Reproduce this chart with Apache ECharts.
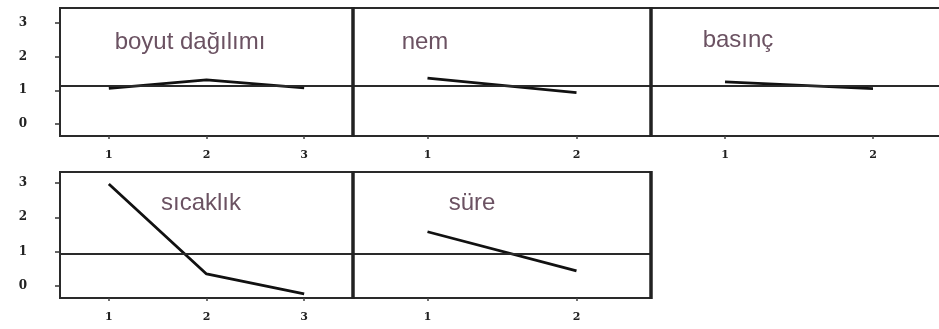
<!DOCTYPE html>
<html>
<head>
<meta charset="utf-8">
<script src="https://cdn.jsdelivr.net/npm/echarts@6/dist/echarts.min.js"></script>
<style>html,body{margin:0;padding:0;background:#fff}#c{width:939px;height:329px}</style>
</head>
<body>
<div id="c"></div>
<script>
// ---- data ----
const panelTitles = ['boyut dağılımı', 'nem', 'basınç', 'sıcaklık', 'süre'];
const levels3 = ['1', '2', '3'];
const levels2 = ['1', '2'];
const boyut = [1.06, 1.31, 1.07];
const nem = [1.36, 0.93];
const basinc = [1.25, 1.05];
const sicaklik = [2.97, 0.35, -0.23];
const sure = [1.58, 0.44];
const meanTop = 1.13;
const meanBottom = 0.93;
const yTickLabels = [0, 1, 2, 3];

// ---- layout ----
const panels = [
  {cats: levels3, vals: boyut, mean: meanTop, left: 60, top: 8, width: 293, height: 128, yMin: -0.36, yMax: 3.45, showY: true, tx: 190, ty: 42},
  {cats: levels2, vals: nem, mean: meanTop, left: 353, top: 8, width: 298, height: 128, yMin: -0.36, yMax: 3.45, showY: false, tx: 425, ty: 42},
  {cats: levels2, vals: basinc, mean: meanTop, left: 651, top: 8, width: 296, height: 128, yMin: -0.36, yMax: 3.45, showY: false, tx: 738, ty: 40},
  {cats: levels3, vals: sicaklik, mean: meanBottom, left: 60, top: 172, width: 293, height: 126, yMin: -0.35, yMax: 3.32, showY: true, tx: 201, ty: 203},
  {cats: levels2, vals: sure, mean: meanBottom, left: 353, top: 172, width: 298, height: 126, yMin: -0.35, yMax: 3.32, showY: false, tx: 472, ty: 203}
];
// thick panel separators (x, top, bottom)
const separators = [[353, 7, 137], [651, 7, 137], [353, 171, 299], [651, 171, 299]];

const chart = echarts.init(document.getElementById('c'), null, {renderer: 'canvas'});
const grid = [], xAxis = [], yAxis = [], series = [], graphic = [];
panels.forEach((p, i) => {
  grid.push({left: p.left, top: p.top, width: p.width, height: p.height, show: true,
    borderColor: '#2a2a2a', borderWidth: 2, backgroundColor: '#fff', containLabel: false,
    outerBoundsMode: 'none'});
  xAxis.push({type: 'category', gridIndex: i, data: p.cats, boundaryGap: true, position: 'bottom',
    axisLine: {show: false, onZero: false},
    axisTick: {show: true, alignWithLabel: true, length: 3, lineStyle: {color: '#444', width: 1.5}},
    axisLabel: {show: true, margin: 14, color: '#222', fontFamily: 'DejaVu Serif', fontWeight: 'bold', fontSize: 11},
    splitLine: {show: false}});
  yAxis.push({type: 'value', gridIndex: i, min: p.yMin, max: p.yMax,
    axisLine: {show: false, onZero: false},
    axisTick: {show: p.showY, inside: false, length: 5, customValues: yTickLabels, lineStyle: {color: '#333', width: 1.5}},
    axisLabel: {show: p.showY, margin: 33, color: '#222', fontFamily: 'DejaVu Serif', fontWeight: 'bold', fontSize: 12, customValues: yTickLabels},
    splitLine: {show: false}});
  series.push({type: 'line', xAxisIndex: i, yAxisIndex: i, data: p.vals,
    symbol: 'none', lineStyle: {color: '#111', width: 2.8}, silent: true,
    markLine: {silent: true, symbol: 'none', label: {show: false},
      lineStyle: {color: '#2a2a2a', width: 2, type: 'solid'},
      data: [{yAxis: p.mean}]}});
  graphic.push({type: 'text', x: p.tx, y: p.ty,
    style: {text: panelTitles[i], fill: '#6b5262', font: '24px "Liberation Sans"',
      textAlign: 'center', textVerticalAlign: 'middle'}});
});
separators.forEach(s => {
  graphic.push({type: 'line', shape: {x1: s[0], y1: s[1], x2: s[0], y2: s[2]},
    style: {stroke: '#222', lineWidth: 3.5}, z: 100});
});

chart.setOption({animation: false, backgroundColor: '#fff', grid, xAxis, yAxis, series, graphic});
</script>
</body>
</html>
